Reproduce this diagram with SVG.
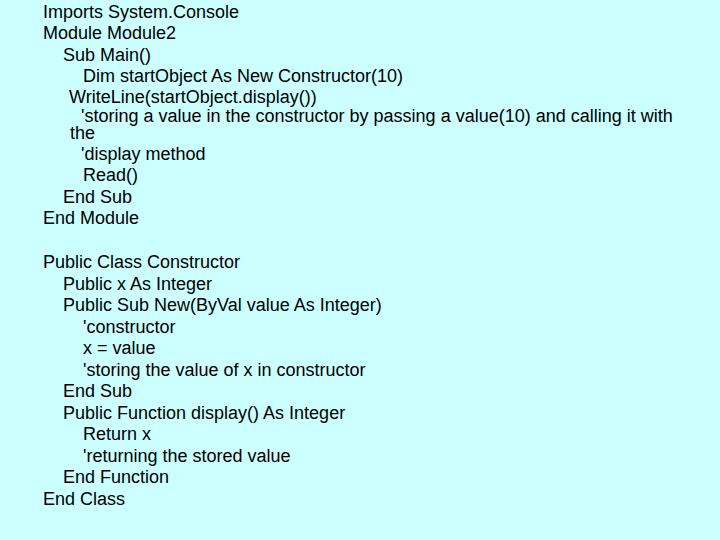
<svg xmlns="http://www.w3.org/2000/svg" width="720" height="540" viewBox="0 0 720 540">
<style>text{font-family:"Liberation Sans",Arial,sans-serif;font-size:18px;fill:#000}</style>
<rect width="720" height="540" fill="#CCFFFF"/>
<g id="code">
<text x="43" y="18">Imports System.Console</text>
<text x="43" y="39">Module Module2</text>
<text x="63" y="61">Sub Main()</text>
<text x="83" y="82">Dim startObject As New Constructor(10)</text>
<text x="69" y="103">WriteLine(startObject.display())</text>
<text x="81" y="122">'storing a value in the constructor by passing a value(10) and calling it with</text>
<text x="70" y="139">the</text>
<text x="81" y="160">'display method</text>
<text x="83" y="181">Read()</text>
<text x="63" y="203">End Sub</text>
<text x="43" y="224">End Module</text>
<text x="43" y="268">Public Class Constructor</text>
<text x="63" y="290">Public x As Integer</text>
<text x="63" y="311">Public Sub New(ByVal value As Integer)</text>
<text x="83" y="333">'constructor</text>
<text x="83" y="354">x = value</text>
<text x="83" y="376">'storing the value of x in constructor</text>
<text x="63" y="397">End Sub</text>
<text x="63" y="419">Public Function display() As Integer</text>
<text x="83" y="440">Return x</text>
<text x="83" y="462">'returning the stored value</text>
<text x="63" y="483">End Function</text>
<text x="43" y="505">End Class</text>
</g>
</svg>
